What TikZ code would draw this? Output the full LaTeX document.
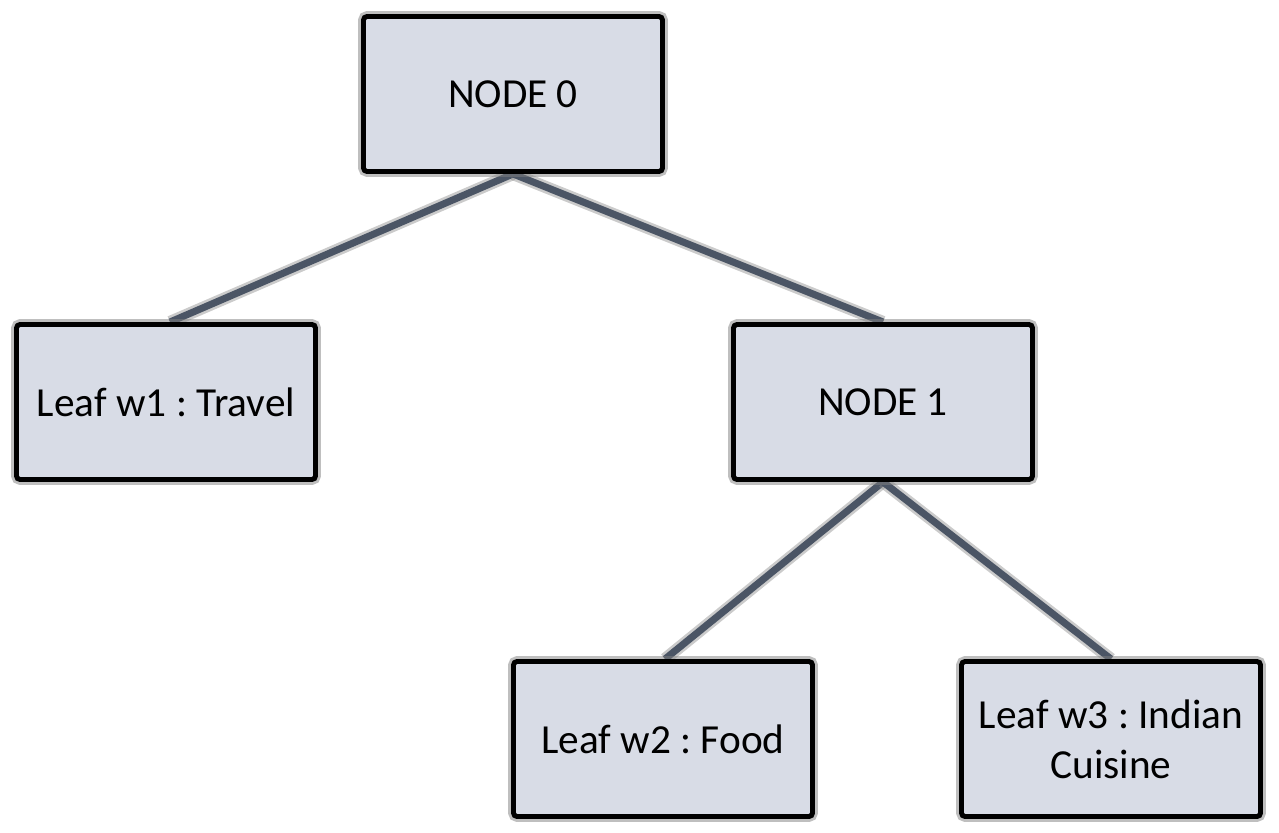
\documentclass[tikz,border=0pt]{standalone}
\usepackage{fontspec}
\setmainfont{Carlito}
\usepackage{tikz}
\usetikzlibrary{calc}
\usetikzlibrary{backgrounds}

\definecolor{boxfill}{HTML}{D8DCE6}
\definecolor{linkgray}{HTML}{4B5565}

\tikzset{
    treebox/.style={draw=black, line width=2.8pt, fill=boxfill, rounded corners=2pt,
        minimum width=5.98cm, minimum height=3.1cm, align=center,
        font=\fontsize{23.5}{28.5}\selectfont,
        preaction={draw=black!50, line width=6pt, opacity=0.5}},
    treelink/.style={draw=linkgray, line width=4pt,
        preaction={draw=black!45, line width=7pt, opacity=0.45}}
}

\begin{document}
\frenchspacing
\begin{tikzpicture}
        \def\w{25.58}  % width of the picture
        \def\h{16.66}  % height of the picture

        % Fix the margins
        \useasboundingbox (0,0) rectangle (\w,-\h);

        % Creates nodes of the tree
        \node[treebox] (node0) at (10.26,-1.88) {NODE 0};
        \node[treebox] (leaf1) at (3.32,-8.04) {Leaf w1 : Travel};
        \node[treebox] (node1) at (17.66,-8.04) {NODE 1};
        \node[treebox] (leaf2) at (13.26,-14.78) {Leaf w2 : Food};
        \node[treebox] (leaf3) at (22.22,-14.78) {Leaf w3 : Indian\\Cuisine};

        % Draw the links behind the boxes
        \begin{scope}[on background layer]
        \draw[treelink] (node0.south) -- ($(leaf1.north)+(0.08,0)$);
        \draw[treelink] (node0.south) -- (node1.north);
        \draw[treelink] (node1.south) -- ($(leaf2.north)+(0.04,0)$);
        \draw[treelink] (node1.south) -- (leaf3.north);
        \end{scope}

\end{tikzpicture}
\end{document}
